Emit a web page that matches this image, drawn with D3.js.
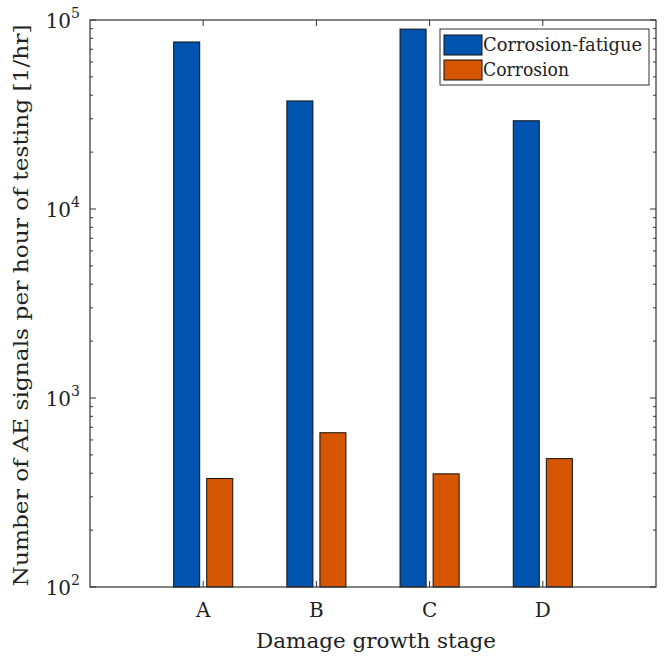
<!DOCTYPE html>
<html><head><meta charset="utf-8">
<script src="https://cdn.jsdelivr.net/npm/d3@7"></script>
<style>body{margin:0;background:#fff}svg{display:block}svg text{font-family:"DejaVu Serif","Liberation Serif","Noto Serif",serif}</style>
</head><body>
<svg id="c" width="667" height="659"></svg>
<script>
const categories = ["A","B","C","D"];
const seriesNames = ["Corrosion-fatigue","Corrosion"];
const corrosionFatigue = [76500, 37300, 89500, 29300];
const corrosion = [375, 655, 397, 478];
const yTickExps = [2,3,4,5];
const colors = ["#0054B0","#D65500"];

const W=667,H=659;
const m={l:90,r:11,t:20,b:72};
const pw=W-m.l-m.r, ph=H-m.t-m.b;
const svg=d3.select("#c");
const g=svg.append("g").attr("transform",`translate(${m.l},${m.t})`);
const x=d3.scaleLinear().domain([0,5]).range([0,pw]);
const y=d3.scaleLog().domain([100,100000]).range([ph,0]);

const series=[corrosionFatigue,corrosion];
const bw=0.23, off=[-0.146,0.146];
series.forEach((vals,si)=>{
  g.selectAll(".b"+si).data(vals).enter().append("rect")
    .attr("x",(d,i)=>x(i+1+off[si]-bw/2))
    .attr("width",x(bw)-x(0))
    .attr("y",d=>y(d))
    .attr("height",d=>ph-y(d))
    .attr("fill",colors[si]).attr("stroke","#111").attr("stroke-width",1);
});

g.append("rect").attr("x",0).attr("y",0).attr("width",pw).attr("height",ph)
  .attr("fill","none").attr("stroke","#333").attr("stroke-width",1.2);

const minor=[];
for(let e=2;e<5;e++) for(let k=2;k<=9;k++) minor.push(k*Math.pow(10,e));
const tk=g.append("g").attr("stroke","#333");
minor.forEach(v=>{
  tk.append("line").attr("x1",0).attr("x2",3).attr("y1",y(v)).attr("y2",y(v));
  tk.append("line").attr("x1",pw).attr("x2",pw-3).attr("y1",y(v)).attr("y2",y(v));
});
yTickExps.forEach(e=>{
  const v=Math.pow(10,e);
  tk.append("line").attr("x1",0).attr("x2",6).attr("y1",y(v)).attr("y2",y(v));
  tk.append("line").attr("x1",pw).attr("x2",pw-6).attr("y1",y(v)).attr("y2",y(v));
  const t=g.append("text").attr("x",-10).attr("y",y(v)+8).attr("text-anchor","end").attr("font-size",20).attr("fill","#222");
  t.append("tspan").text("10");
  t.append("tspan").attr("font-size",14).attr("dy",-10).text(e);
});
categories.forEach((c,i)=>{
  tk.append("line").attr("x1",x(i+1)).attr("x2",x(i+1)).attr("y1",ph).attr("y2",ph-6);
  tk.append("line").attr("x1",x(i+1)).attr("x2",x(i+1)).attr("y1",0).attr("y2",6);
  g.append("text").attr("x",x(i+1)).attr("y",ph+30).attr("text-anchor","middle").attr("font-size",20).attr("fill","#222").text(c);
});

g.append("text").attr("x",286).attr("y",ph+61).attr("text-anchor","middle").attr("font-size",21).attr("fill","#222")
  .attr("textLength",240).attr("lengthAdjust","spacingAndGlyphs").text("Damage growth stage");
svg.append("text").attr("transform",`translate(28,${m.t+ph/2+2}) rotate(-90)`).attr("text-anchor","middle").attr("font-size",20).attr("fill","#222")
  .attr("textLength",562).attr("lengthAdjust","spacingAndGlyphs")
  .text("Number of AE signals per hour of testing [1/hr]");

const lg=svg.append("g").attr("transform","translate(440,29)");
lg.append("rect").attr("width",209).attr("height",56).attr("fill","#fff").attr("stroke","#333").attr("stroke-width",1);
seriesNames.forEach((n,i)=>{
  lg.append("rect").attr("x",4).attr("y",6+i*25).attr("width",38).attr("height",20).attr("fill",colors[i]).attr("stroke","#111");
  lg.append("text").attr("x",43).attr("y",22+i*25).attr("font-size",18).attr("fill","#222")
    .attr("textLength",i===0?159:86).attr("lengthAdjust","spacingAndGlyphs").text(n);
});
</script>
</body></html>
